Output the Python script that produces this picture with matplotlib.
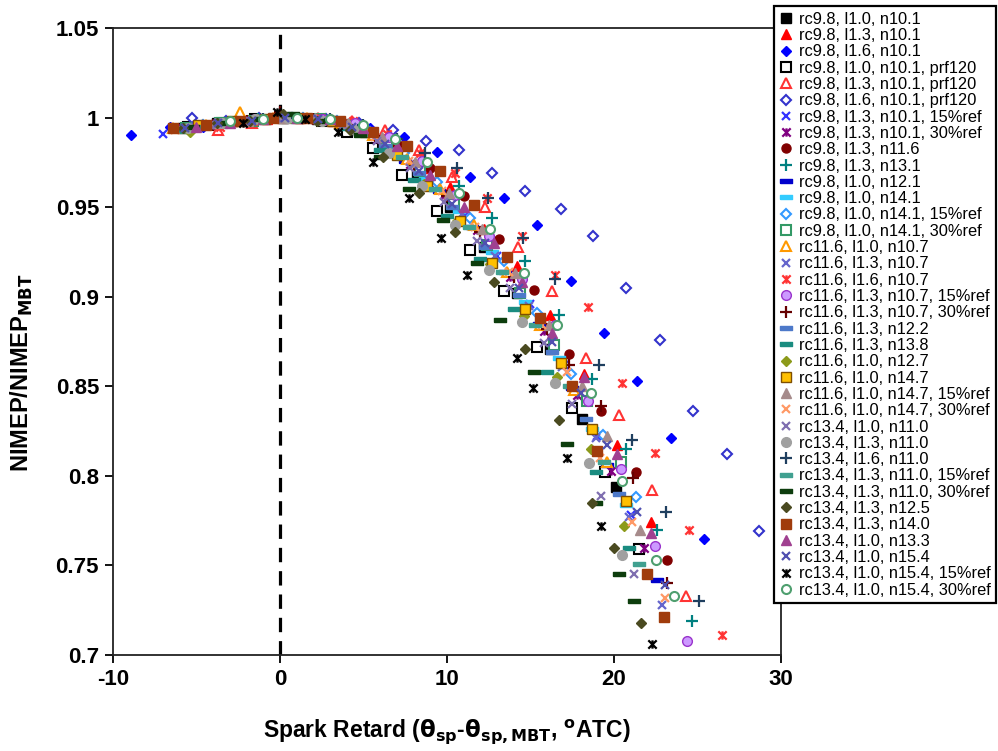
import matplotlib

matplotlib.use("Agg")
import matplotlib.pyplot as plt
from matplotlib.path import Path

plt.rcParams["font.family"] = ["Liberation Sans", "DejaVu Sans"]
plt.rcParams["axes.unicode_minus"] = False

# ==========================================
# DATA (legend order)
# ==========================================
labels = [
    "rc9.8, l1.0, n10.1",
    "rc9.8, l1.3, n10.1",
    "rc9.8, l1.6, n10.1",
    "rc9.8, l1.0, n10.1, prf120",
    "rc9.8, l1.3, n10.1, prf120",
    "rc9.8, l1.6, n10.1, prf120",
    "rc9.8, l1.3, n10.1, 15%ref",
    "rc9.8, l1.3, n10.1, 30%ref",
    "rc9.8, l1.3, n11.6",
    "rc9.8, l1.3, n13.1",
    "rc9.8, l1.0, n12.1",
    "rc9.8, l1.0, n14.1",
    "rc9.8, l1.0, n14.1, 15%ref",
    "rc9.8, l1.0, n14.1, 30%ref",
    "rc11.6, l1.0, n10.7",
    "rc11.6, l1.3, n10.7",
    "rc11.6, l1.6, n10.7",
    "rc11.6, l1.3, n10.7, 15%ref",
    "rc11.6, l1.3, n10.7, 30%ref",
    "rc11.6, l1.3, n12.2",
    "rc11.6, l1.3, n13.8",
    "rc11.6, l1.0, n12.7",
    "rc11.6, l1.0, n14.7",
    "rc11.6, l1.0, n14.7, 15%ref",
    "rc11.6, l1.0, n14.7, 30%ref",
    "rc13.4, l1.0, n11.0",
    "rc13.4, l1.3, n11.0",
    "rc13.4, l1.6, n11.0",
    "rc13.4, l1.3, n11.0, 15%ref",
    "rc13.4, l1.3, n11.0, 30%ref",
    "rc13.4, l1.3, n12.5",
    "rc13.4, l1.3, n14.0",
    "rc13.4, l1.0, n13.3",
    "rc13.4, l1.0, n15.4",
    "rc13.4, l1.0, n15.4, 15%ref",
    "rc13.4, l1.0, n15.4, 30%ref",
]

# spark retard (deg ATC) per series
series_x = [
    [-5.8, -3.8, -1.8, 0.2, 2.2, 4.2, 6.2, 8.2, 10.2, 12.2, 14.2, 16.2, 18.1, 20.1],
    [-4.8, -2.8, -0.8, 1.2, 3.2, 5.2, 7.2, 8.8, 10.2, 12.2, 14.2, 16.2, 18.2, 20.2, 22.2],
    [-8.9, -6.6, -4.6, -2.6, -0.6, 1.4, 3.4, 5.4, 7.4, 9.4, 11.4, 13.4, 15.4, 17.4, 19.4, 21.4, 23.4, 25.4],
    [-5.5, -3.5, -1.5, 0.5, 2.5, 4.0, 5.6, 7.3, 9.4, 11.4, 13.4, 15.4, 17.5, 19.45, 21.5],
    [-3.7, -1.7, 0.3, 2.3, 4.3, 6.3, 8.3, 10.3, 12.3, 14.25, 16.3, 18.3, 20.3, 22.3, 24.3],
    [-5.25, -3.25, -1.25, 0.75, 2.75, 4.75, 6.75, 8.75, 10.7, 12.7, 14.7, 16.8, 18.75, 20.75, 22.75, 24.75, 26.75, 28.7],
    [-7.0, -5.0, -3.0, -1.0, 1.0, 3.0, 5.0, 7.0, 9.0, 11.0, 13.0, 15.0, 17.0, 19.0, 21.0],
    [-6.2, -4.2, -2.2, -0.2, 1.8, 3.8, 5.8, 7.8, 9.8, 11.8, 13.8, 15.8, 17.8, 19.8, 21.8],
    [-5.0, -3.0, -1.0, 1.0, 3.0, 5.0, 7.0, 9.0, 11.0, 13.1, 15.2, 17.3, 19.2, 21.3, 23.2],
    [-3.3, -1.3, 0.7, 2.7, 4.7, 6.7, 8.7, 10.7, 12.7, 14.7, 16.7, 18.7, 20.7, 22.6, 24.65],
    [-4.5, -2.5, -0.5, 1.5, 3.5, 5.5, 7.5, 9.5, 11.5, 13.5, 15.5, 17.5, 19.6, 22.55],
    [-5.3, -3.3, -1.3, 0.7, 2.7, 4.7, 6.7, 8.7, 10.7, 12.7, 14.7, 16.7, 18.7, 20.7],
    [-4.6, -2.6, -0.6, 1.4, 3.4, 5.4, 7.4, 9.4, 11.4, 13.4, 15.4, 17.4, 19.35, 21.3],
    [-5.6, -3.6, -1.6, 0.4, 2.4, 4.4, 6.4, 8.4, 10.4, 12.4, 14.4, 16.4, 18.4, 20.4],
    [-6.4, -4.4, -2.4, -0.4, 1.6, 3.6, 5.6, 7.6, 9.6, 11.6, 13.6, 15.6, 17.6, 19.6],
    [-5.1, -3.1, -1.1, 0.9, 2.9, 4.9, 6.9, 8.9, 10.9, 12.9, 14.9, 16.9, 18.9, 20.9, 22.9],
    [-3.6, -1.6, 0.4, 2.4, 4.4, 6.4, 8.4, 10.5, 12.4, 14.5, 16.5, 18.45, 20.5, 22.45, 24.5, 26.5],
    [-3.5, -1.5, 0.5, 2.5, 4.5, 6.5, 8.5, 10.5, 12.5, 14.5, 16.5, 18.45, 20.45, 22.45, 24.4],
    [-4.0, -2.0, 0.0, 2.0, 4.0, 6.0, 8.0, 10.0, 12.0, 14.0, 16.0, 17.3, 19.2, 21.15, 23.15],
    [-5.7, -3.7, -1.7, 0.3, 2.3, 4.3, 6.3, 8.3, 10.3, 12.3, 14.3, 16.3, 18.3, 20.3],
    [-6.0, -4.0, -2.0, 0.0, 2.0, 4.0, 6.0, 8.0, 10.0, 12.0, 14.0, 16.0, 18.95, 20.9],
    [-5.4, -3.4, -1.4, 0.6, 2.6, 4.6, 6.6, 8.6, 10.6, 12.6, 14.6, 16.6, 18.6, 20.6],
    [-4.9, -2.9, -0.9, 1.1, 3.1, 5.1, 7.0, 8.8, 10.8, 12.7, 14.7, 16.8, 18.7, 20.7],
    [-3.9, -1.9, 0.1, 2.1, 4.1, 6.1, 8.1, 10.1, 12.1, 14.1, 16.1, 18.1, 19.6, 21.55],
    [-6.3, -4.3, -2.3, -0.3, 1.7, 3.7, 5.7, 7.7, 9.7, 11.7, 13.7, 15.7, 17.2, 19.15, 21.1, 23.05],
    [-4.2, -2.2, -0.2, 1.8, 3.8, 5.8, 7.8, 9.8, 11.8, 13.8, 15.8, 17.5, 19.25, 21.2],
    [-5.5, -3.5, -1.5, 0.5, 2.5, 4.5, 6.5, 8.5, 10.5, 12.5, 14.5, 16.5, 18.5, 20.5],
    [-3.0, -1.0, 1.0, 3.0, 5.0, 7.0, 8.7, 10.6, 12.45, 14.55, 16.5, 19.1, 21.06, 23.1, 25.1],
    [-4.7, -2.7, -0.7, 1.3, 3.3, 5.3, 7.3, 9.3, 11.3, 13.3, 15.3, 17.3, 19.4, 21.5],
    [-5.2, -3.2, -1.2, 0.8, 2.8, 4.8, 6.0, 7.7, 9.75, 11.8, 13.2, 15.2, 17.2, 18.9, 20.3, 21.2],
    [-5.8, -3.8, -1.8, 0.2, 2.2, 4.2, 6.2, 8.3, 10.5, 12.8, 14.7, 16.7, 18.7, 20.0, 21.65],
    [-6.4, -4.4, -2.4, -0.4, 1.6, 3.6, 5.6, 7.6, 9.6, 11.6, 13.6, 15.6, 17.5, 19.0, 22.0, 23.0],
    [-5.0, -3.0, -1.0, 1.0, 3.0, 5.0, 7.0, 9.0, 11.0, 12.8, 14.5, 16.3, 18.2, 20.2, 22.2],
    [-5.7, -3.7, -1.7, 0.3, 2.3, 4.3, 6.3, 8.3, 10.3, 12.3, 14.3, 16.3, 18.0, 19.6, 21.4, 23.05],
    [-2.2, -0.2, 1.5, 3.5, 5.6, 7.7, 9.65, 11.2, 14.2, 15.15, 17.2, 19.2, 22.25],
    [-3.0, -1.0, 1.0, 3.0, 5.0, 6.9, 8.8, 10.7, 12.6, 14.6, 16.6, 18.6, 20.5, 22.5, 23.6],
]

# NIMEP / NIMEP_MBT per series
series_y = [
    [.994, .997, .998, 1.0, .999, .995, .984, .968, .950, .928, .902, .871, .832, .794],
    [.996, .998, .999, 1.0, .998, .993, .981, .972, .961, .938, .917, .890, .857, .817, .774],
    [.990, .995, .995, .998, 1.0, 1.0, .998, .994, .989, .981, .967, .955, .940, .909, .880, .853, .821, .765],
    [.995, .997, .999, 1.0, .998, .992, .983, .968, .948, .926, .903, .872, .838, .802, .759],
    [.993, .997, 1.0, 1.0, .998, .993, .982, .967, .950, .928, .903, .866, .834, .792, .733],
    [1.0, .998, 1.0, 1.0, .999, .997, .993, .987, .982, .969, .959, .949, .934, .905, .876, .836, .812, .769],
    [.991, .995, .997, .999, 1.0, .998, .993, .980, .963, .945, .923, .896, .862, .822, .778],
    [.994, .996, .998, 1.0, 1.0, .997, .988, .974, .957, .937, .911, .881, .845, .803, .760],
    [.995, .997, .999, 1.0, .999, .995, .985, .972, .956, .932, .904, .868, .836, .802, .753],
    [.997, .999, 1.0, .999, .996, .988, .977, .962, .944, .920, .890, .854, .815, .770, .719],
    [.996, .998, .999, 1.0, .997, .990, .976, .959, .939, .914, .885, .849, .806, .742],
    [.995, .997, .999, 1.0, .998, .994, .982, .966, .948, .925, .897, .866, .826, .784],
    [.996, .998, .999, 1.0, .998, .992, .980, .964, .944, .920, .891, .857, .823, .788],
    [.994, .997, .998, 1.0, .999, .996, .986, .970, .952, .929, .902, .873, .842, .808],
    [.994, .996, 1.003, 1.0, 1.0, .997, .990, .977, .960, .940, .914, .884, .848, .808],
    [.995, .997, .999, 1.0, .998, .993, .981, .965, .946, .923, .895, .861, .821, .777, .728],
    [.995, .998, 1.0, 1.0, .998, .991, .980, .969, .955, .934, .912, .894, .852, .813, .770, .711],
    [.997, .999, 1.0, .999, .997, .989, .976, .957, .934, .910, .884, .842, .804, .761, .708],
    [.996, .998, 1.003, .999, .996, .987, .973, .956, .936, .911, .882, .862, .839, .799, .740],
    [.994, .997, .998, 1.0, .999, .995, .984, .969, .950, .928, .901, .869, .832, .790],
    [.993, .996, .998, 1.0, .999, .994, .982, .965, .945, .921, .893, .858, .802, .760],
    [.992, .997, .999, 1.0, .998, .993, .980, .963, .942, .918, .889, .855, .815, .772],
    [.996, .998, .999, 1.0, .998, .992, .979, .962, .942, .919, .893, .863, .826, .786],
    [.997, .998, 1.0, 1.0, .997, .989, .975, .958, .938, .913, .884, .850, .822, .770],
    [.993, .996, .998, 1.0, 1.0, .997, .989, .976, .959, .939, .914, .884, .858, .810, .774, .732],
    [.996, .998, 1.0, .999, .996, .987, .972, .953, .931, .905, .874, .840, .789, .745],
    [.994, .997, .999, 1.0, .998, .993, .980, .962, .940, .915, .886, .852, .807, .756],
    [.997, .999, 1.0, .999, .996, .988, .980, .972, .955, .933, .910, .862, .820, .780, .730],
    [.995, .998, .999, 1.0, .998, .991, .978, .960, .939, .914, .884, .850, .808, .751],
    [.995, .997, .999, 1.002, .998, .990, .978, .960, .943, .919, .887, .858, .818, .785, .745, .730],
    [.994, .997, .998, 1.002, .998, .993, .978, .958, .936, .908, .871, .831, .785, .760, .718],
    [.994, .996, .998, 1.0, 1.0, .998, .992, .984, .970, .951, .922, .888, .850, .814, .745, .721],
    [.995, .997, .999, 1.0, .999, .994, .984, .968, .950, .930, .908, .880, .855, .812, .768],
    [.994, .997, .998, 1.0, .999, .995, .985, .970, .952, .930, .905, .875, .846, .817, .780, .739],
    [.997, 1.003, .999, .992, .975, .955, .933, .912, .866, .849, .810, .772, .706],
    [.998, .999, 1.0, .999, .996, .988, .975, .958, .938, .913, .884, .846, .797, .753, .733],
]

x_ticks = [-10, 0, 10, 20, 30]
y_ticks = [0.7, 0.75, 0.8, 0.85, 0.9, 0.95, 1.0, 1.05]

# ==========================================
# MARKER STYLES (Excel look)
# ==========================================
STAR = Path(
    [(-1, -1), (1, 1), (-1, 1), (1, -1), (0, -1), (0, 1)],
    [Path.MOVETO, Path.LINETO, Path.MOVETO, Path.LINETO, Path.MOVETO, Path.LINETO],
)
DASH = [(-1, -0.32), (1, -0.32), (1, 0.32), (-1, 0.32), (-1, -0.32)]


def filled(marker, color, size=6.5, edge=None):
    return dict(marker=marker, ms=size, mfc=color, mec=edge or color, mew=1.0)


def hollow(marker, color, size=6.5):
    return dict(marker=marker, ms=size, mfc="white", mec=color, mew=1.5)


def lined(marker, color, size=6.5):
    return dict(marker=marker, ms=size, mfc="none", mec=color, mew=1.6)


styles = [
    filled("s", "#000000"),
    filled("^", "#ff0000"),
    filled("D", "#0000ff", 5),
    hollow("s", "#000000"),
    hollow("^", "#ff3333"),
    hollow("D", "#3333cc", 5),
    lined("x", "#3333ff", 6),
    lined(STAR, "#800080", 6),
    filled("o", "#800000"),
    lined("+", "#008080", 8),
    filled(DASH, "#0000cc", 8),
    filled(DASH, "#33ccff", 8),
    hollow("D", "#3399ff", 5),
    hollow("s", "#339966"),
    hollow("^", "#ff9900"),
    lined("x", "#6666cc", 6),
    lined(STAR, "#ff3333", 6),
    filled("o", "#cc99ff", 7, "#9933cc"),
    lined("+", "#660000", 8),
    filled(DASH, "#4d79c9", 8),
    filled(DASH, "#1a8c80", 8),
    filled("D", "#8c9a1a", 5),
    filled("s", "#ffc000", 7, "#7f4f00"),
    filled("^", "#a68b8b"),
    lined("x", "#ff9966", 6),
    lined("x", "#7f6fb0", 6),
    filled("o", "#a0a0a0", 7),
    lined("+", "#1f3f5f", 8),
    filled(DASH, "#40a090", 8),
    filled(DASH, "#0d3d0d", 8),
    filled("D", "#4a4a20", 5),
    filled("s", "#a03c0c", 7),
    filled("^", "#a04090"),
    lined("x", "#5050b0", 6),
    lined(STAR, "#000000", 6),
    hollow("o", "#4f9f6f"),
]

# ==========================================
# FIGURE
# ==========================================
fig = plt.figure(figsize=(9.98, 7.51), dpi=100)
ax = fig.add_axes([0.1132, 0.1278, 0.6693, 0.8349])

handles = []
for xs, ys, lab, st in zip(series_x, series_y, labels, styles):
    (h,) = ax.plot(xs, ys, linestyle="none", label=lab, **st)
    handles.append(h)

ax.axvline(0, color="black", lw=2.3, linestyle=(0, (4.5, 2.8)), zorder=1)

ax.set_xlim(-10, 30)
ax.set_ylim(0.7, 1.05)
ax.set_xticks(x_ticks)
ax.set_yticks(y_ticks)
ax.set_yticklabels([f"{v:g}" for v in y_ticks])
ax.tick_params(direction="out", length=6, width=1.3, labelsize=16, pad=4)
for lab in ax.get_xticklabels() + ax.get_yticklabels():
    lab.set_fontweight("bold")
for sp in ax.spines.values():
    sp.set_linewidth(1.3)
    sp.set_color("#222222")

ax.set_xlabel(
    r"Spark Retard ($\mathbf{\theta_{sp}}$-$\mathbf{\theta_{sp,MBT}}$, $\mathbf{^{o}}$ATC)",
    fontsize=16.5,
    fontweight="bold",
    labelpad=20,
)
ax.set_ylabel(r"NIMEP/NIMEP$_{\mathbf{MBT}}$", fontsize=17, fontweight="bold")
ax.yaxis.set_label_coords(-0.117, 0.45)

leg = fig.legend(
    handles=handles,
    loc="upper left",
    bbox_to_anchor=(0.7756, 0.992),
    bbox_transform=fig.transFigure,
    fontsize=11.8,
    numpoints=1,
    handlelength=0.8,
    handletextpad=0.35,
    labelspacing=0.08,
    borderpad=0.35,
    borderaxespad=0.0,
    fancybox=False,
    framealpha=1.0,
)
leg.get_frame().set_edgecolor("black")
leg.get_frame().set_linewidth(1.6)

fig.savefig("out.png", dpi=100)
